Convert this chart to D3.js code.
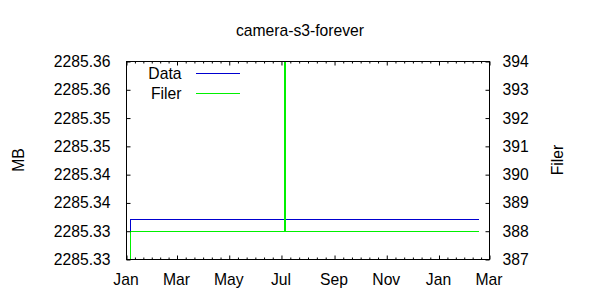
<!DOCTYPE html>
<meta charset="utf-8">
<style>
body { margin: 0; background: #fff; }
svg { display: block; }
text { font-family: "Liberation Sans", Arial, sans-serif; font-size: 15.7px; fill: #000; }
.axis path.domain { display: none; }
.axis line { stroke: #000; stroke-width: 1px; }
.border { fill: none; stroke: #000; stroke-width: 1px; }
.series { fill: none; stroke-width: 1px; }
</style>
<svg width="600" height="300"></svg>
<script src="https://cdn.jsdelivr.net/npm/d3@7"></script>
<script>

// Data (MB, left axis)
var dataTimes = ["2013-01-04T12:00", "2013-01-06T06:00", "2014-02-16T14:00"];
var dataMB = [2285.3281, 2285.3320, 2285.3320];

// Filer (count, right axis); the spike runs past the top of the range
var filerTimes = ["2013-01-04T12:00", "2013-01-06T06:00", "2013-07-04T18:00", "2013-07-05T18:00", "2014-02-16T14:00"];
var filerCount = [380, 388, 400, 388, 388];

var xDomain = ["2013-01-01", "2014-03-01"];
var yDomain = [2285.325, 2285.36];
var y2Domain = [387, 394];
var yTickLabels = ["2285.33", "2285.33", "2285.34", "2285.34", "2285.35", "2285.35", "2285.36", "2285.36"];
var y2TickValues = [387, 388, 389, 390, 391, 392, 393, 394];

var title = "camera-s3-forever";
var seriesNames = ["Data", "Filer"];
var seriesColors = ["#0000d0", "#00f000"];

var svg = d3.select("svg"),
    margin = {top: 61, right: 111, bottom: 41, left: 126},
    width = 600 - margin.left - margin.right,
    height = 300 - margin.top - margin.bottom,
    g = svg.append("g").attr("transform", "translate(" + (margin.left + 0.5) + "," + (margin.top + 0.5) + ")");

var parseTime = d3.utcParse("%Y-%m-%dT%H:%M");
var parseDay = d3.utcParse("%Y-%m-%d");

var x = d3.scaleUtc().domain(xDomain.map(parseDay)).range([0, width]),
    y = d3.scaleLinear().domain(yDomain).range([height, 0]),
    y2 = d3.scaleLinear().domain(y2Domain).range([height, 0]);

var yTickValues = yTickLabels.map(function(d, i) { return yDomain[0] + i * 0.005; });

// minor ticks: six steps between each pair of major (two-month) ticks
var majors = d3.utcMonth.every(2).range(x.domain()[0], d3.utcDay.offset(x.domain()[1], 1));
var minors = [];
for (var i = 0; i < majors.length - 1; ++i) {
  var a = +majors[i], b = +majors[i + 1];
  for (var k = 1; k < 6; ++k) minors.push(new Date(a + (b - a) * k / 6));
}

g.append("defs").append("clipPath").attr("id", "clip")
  .append("rect").attr("x", 0).attr("y", 0).attr("width", width).attr("height", height);

var line = d3.line().curve(d3.curveStepAfter);

g.append("path")
    .attr("class", "series")
    .attr("clip-path", "url(#clip)")
    .attr("shape-rendering", "crispEdges")
    .style("stroke", seriesColors[0])
    .attr("d", line(dataTimes.map(function(t, i) { return [Math.round(x(parseTime(t))), Math.round(y(dataMB[i]))]; })));

g.append("path")
    .attr("class", "series")
    .attr("clip-path", "url(#clip)")
    .attr("shape-rendering", "crispEdges")
    .style("stroke", seriesColors[1])
    .attr("d", line(filerTimes.map(function(t, i) { return [Math.round(x(parseTime(t))), Math.round(y2(filerCount[i]))]; })));

// axes (ticks point inward, like gnuplot)
g.append("g")
    .attr("class", "axis")
    .attr("transform", "translate(0," + height + ")")
    .call(d3.axisBottom(x).tickValues(majors).tickFormat(d3.utcFormat("%b")).tickSizeInner(-4).tickSizeOuter(0).tickPadding(14))
    .call(function(s) { s.selectAll("text").attr("dx", "-1"); });

g.append("g")
    .attr("class", "axis")
    .attr("transform", "translate(0," + height + ")")
    .call(d3.axisBottom(x).tickValues(minors).tickFormat("").tickSizeInner(-2).tickSizeOuter(0));

g.append("g")
    .attr("class", "axis")
    .call(d3.axisTop(x).tickValues(majors).tickFormat("").tickSizeInner(-4).tickSizeOuter(0));

g.append("g")
    .attr("class", "axis")
    .call(d3.axisTop(x).tickValues(minors).tickFormat("").tickSizeInner(-2).tickSizeOuter(0));

g.append("g")
    .attr("class", "axis")
    .call(d3.axisLeft(y).tickValues(yTickValues).tickFormat(function(d, i) { return yTickLabels[i]; })
      .tickSizeInner(-4).tickSizeOuter(0).tickPadding(16));

g.append("g")
    .attr("class", "axis")
    .attr("transform", "translate(" + width + ",0)")
    .call(d3.axisRight(y2).tickValues(y2TickValues).tickFormat(d3.format("d"))
      .tickSizeInner(-4).tickSizeOuter(0).tickPadding(13));

g.append("rect")
    .attr("class", "border")
    .attr("width", width)
    .attr("height", height);

// legend
var legend = g.selectAll(".legend")
  .data(seriesNames)
  .enter().append("g")
    .attr("class", "legend")
    .attr("transform", function(d, i) { return "translate(0," + (12 + i * 19.5) + ")"; });

legend.append("text")
    .attr("x", 55)
    .attr("dy", "0.35em")
    .attr("text-anchor", "end")
    .text(function(d) { return d; });

legend.append("line")
    .attr("x1", 69).attr("x2", 113)
    .attr("shape-rendering", "crispEdges")
    .style("stroke", function(d, i) { return seriesColors[i]; });

// titles
svg.append("text")
    .attr("x", 300)
    .attr("y", 36)
    .attr("text-anchor", "middle")
    .text(title);

svg.append("text")
    .attr("transform", "translate(18," + (margin.top + height / 2) + ") rotate(-90)")
    .attr("dy", "0.35em")
    .attr("text-anchor", "middle")
    .text("MB");

svg.append("text")
    .attr("transform", "translate(557," + (margin.top + height / 2) + ") rotate(-90)")
    .attr("dy", "0.35em")
    .attr("text-anchor", "middle")
    .text("Filer");

</script>
